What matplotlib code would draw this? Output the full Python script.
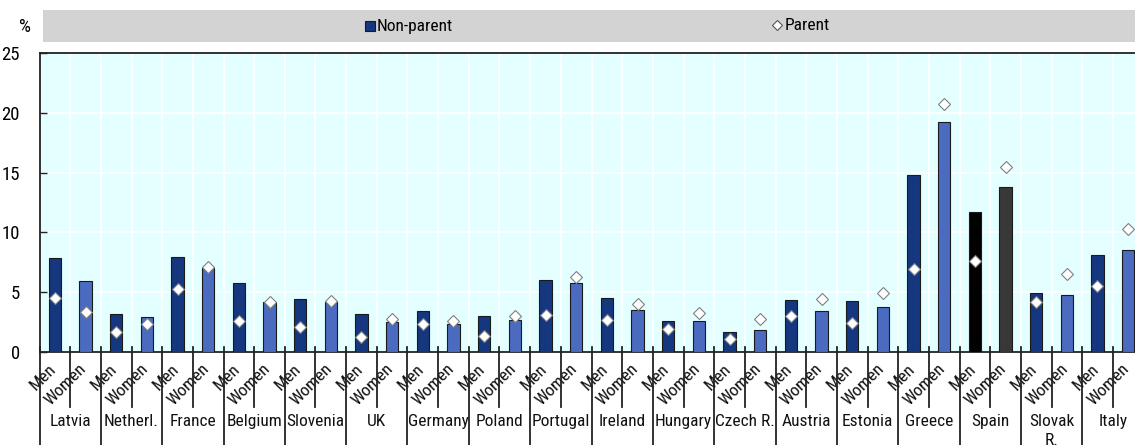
import numpy as np
import matplotlib.pyplot as plt
from matplotlib import font_manager
from matplotlib.transforms import blended_transform_factory

# font: narrow Arial-like if available
names = {f.name for f in font_manager.fontManager.ttflist}
FONT, FS = 'Liberation Sans', 10.5
for cand in ['Liberation Sans Narrow', 'Arial Narrow', 'Roboto Condensed', 'Open Sans Condensed']:
    if cand in names:
        FONT, FS = cand, 12.5
        break
plt.rcParams['font.family'] = [FONT, 'DejaVu Sans']

countries = ["Latvia", "Netherl.", "France", "Belgium", "Slovenia", "UK", "Germany",
             "Poland", "Portugal", "Ireland", "Hungary", "Czech R.", "Austria",
             "Estonia", "Greece", "Spain", "Slovak\nR.", "Italy"]
sexes = ["Men", "Women"]

nonparent_men = [7.9, 3.15, 7.95, 5.75, 4.45, 3.2, 3.4, 3.05, 6.05, 4.55, 2.6, 1.7,
                 4.35, 4.3, 14.8, 11.7, 4.95, 8.15]
nonparent_women = [5.9, 2.95, 7.05, 4.2, 4.2, 2.55, 2.35, 2.65, 5.8, 3.5, 2.6, 1.8,
                   3.45, 3.8, 19.2, 13.8, 4.8, 8.5]
parent_men = [4.5, 1.7, 5.25, 2.6, 2.1, 1.25, 2.3, 1.35, 3.1, 2.7, 1.9, 1.1,
              3.05, 2.45, 6.9, 7.65, 4.2, 5.55]
parent_women = [3.35, 2.3, 7.1, 4.2, 4.3, 2.75, 2.6, 3.0, 6.3, 4.05, 3.3, 2.75,
                4.45, 4.9, 20.7, 15.5, 6.5, 10.3]

MEN_C, WOMEN_C = '#153780', '#4a6bbf'
HILITE = {"Spain": ('#000000', '#383838')}

fig = plt.figure(figsize=(11.35, 4.45), dpi=100)
ax = fig.add_axes([39.5 / 1135, 93 / 445, 1104 / 1135, 299 / 445])
ax.set_facecolor('#e4ffff')

n = len(countries)
xm = np.arange(n) * 2
xw = xm + 1
cm = [HILITE.get(c, (MEN_C, WOMEN_C))[0] for c in countries]
cw = [HILITE.get(c, (MEN_C, WOMEN_C))[1] for c in countries]

ax.bar(xm, nonparent_men, width=0.4, color=cm, edgecolor='#1a1a1a', linewidth=0.8, zorder=3)
ax.bar(xw, nonparent_women, width=0.4, color=cw, edgecolor='#1a1a1a', linewidth=0.8, zorder=3)
ax.plot(xm, parent_men, ls='none', marker='D', ms=6, mfc='white', mec='#7f7f7f', mew=0.8, zorder=4)
ax.plot(xw, parent_women, ls='none', marker='D', ms=6, mfc='white', mec='#7f7f7f', mew=0.8, zorder=4)

ax.set_xlim(-0.5, 2 * n - 0.5)
ax.set_ylim(0, 25)
ax.set_yticks([0, 5, 10, 15, 20, 25])
ax.set_xticks(np.arange(-0.5, 2 * n, 1), minor=False)
ax.tick_params(axis='x', length=0, labelbottom=False)
ax.tick_params(axis='y', direction='in', length=5, width=1, pad=14, labelsize=FS + 1, color='#222222')
ax.grid(True, color='white', linewidth=1.2, zorder=0)
for s in ['left', 'top', 'bottom']:
    ax.spines[s].set_color('#222222')
    ax.spines[s].set_linewidth(1.3)
ax.spines['right'].set_visible(False)

# separators below the axis
tr = blended_transform_factory(ax.transData, ax.transAxes)
px = 1 / 299
for k in range(2 * n):
    b = k - 0.5
    low = -55 * px if k % 2 == 1 else -95 * px
    ax.plot([b, b], [5 * px, low], color='#222222', lw=1.3, transform=tr, clip_on=False, zorder=5)

# category labels
for i, c in enumerate(countries):
    for j, s in enumerate(sexes):
        x = 2 * i + j
        ax.annotate(s, xy=(x, 0), xycoords=tr, xytext=(4, -9), textcoords='offset pixels',
                    rotation=45, ha='right', va='top', fontsize=FS, color='#111111')
    ax.annotate(c, xy=(2 * i + 0.5, 0), xycoords=tr, xytext=(0, -62), textcoords='offset pixels',
                ha='center', va='top', fontsize=FS, color='#111111', linespacing=1.3)

# legend band
lax = fig.add_axes([43 / 1135, 1 - 42 / 445, 1, 32 / 445])
lax.set_facecolor('#d3d3d3')
lax.set_xlim(43, 1178)
lax.set_ylim(0, 32)
lax.set_xticks([])
lax.set_yticks([])
for s in lax.spines.values():
    s.set_visible(False)
lax.plot([370], [16], marker='s', ms=7, mfc=MEN_C, mec='#1a1a1a', mew=0.8, ls='none')
lax.text(377, 16, 'Non-parent', va='center', ha='left', fontsize=FS)
lax.plot([777], [17], marker='D', ms=5, mfc='white', mec='#555555', mew=0.8, ls='none')
lax.text(785, 16, 'Parent', va='center', ha='left', fontsize=FS)
fig.text(25 / 1135, 1 - 27 / 445, '%', ha='center', va='center', fontsize=FS + 1)

fig.savefig('out.png', dpi=100)
